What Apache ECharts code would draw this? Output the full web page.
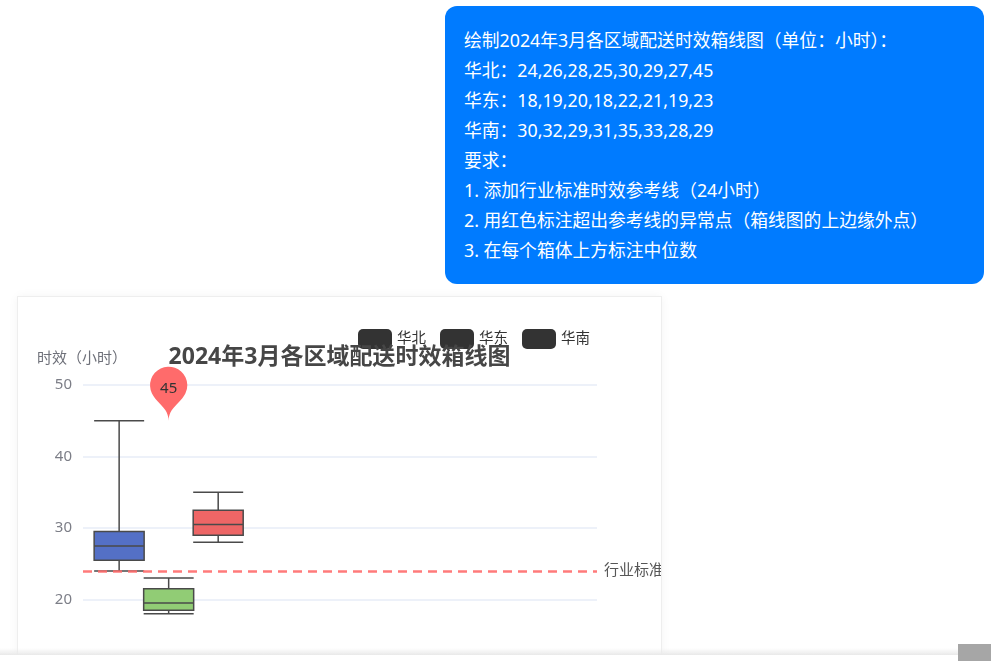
<!DOCTYPE html>
<html>
<head>
<meta charset="utf-8">
<style>
html, body { margin: 0; height: 100%; background: #fff; overflow: hidden; font-family: "Noto Sans", "Noto Sans CJK SC", sans-serif; }
#bubble { position: absolute; left: 445px; top: 6px; width: 539px; height: 278px; box-sizing: border-box; padding: 19px 0 0 19px; background: #007bff; color: #fff; border-radius: 12px; font-size: 17.8px; line-height: 30px; white-space: nowrap; }
#card { position: absolute; left: 18px; top: 297px; width: 643px; height: 500px; box-shadow: 0 0 0 1px #eee, 0 0 10px rgba(0,0,0,0.06); background: #fff; }
#container { width: 643px; height: 500px; }
#bottom { position: absolute; left: 0; top: 648px; width: 100%; height: 13px; background: linear-gradient(to bottom, rgba(235,235,235,0), #e9e9e9 54%, #fff 54%); }
#thumb { position: absolute; left: 958px; top: 644px; width: 33px; height: 17px; background: #a6a6a6; }
</style>
</head>
<body>
<div id="bubble">绘制2024年3月各区域配送时效箱线图（单位：小时）：<br>华北：24,26,28,25,30,29,27,45<br>华东：18,19,20,18,22,21,19,23<br>华南：30,32,29,31,35,33,28,29<br>要求：<br>1. 添加行业标准时效参考线（24小时）<br>2. 用红色标注超出参考线的异常点（箱线图的上边缘外点）<br>3. 在每个箱体上方标注中位数</div>
<div id="card"><div id="container"></div></div>
<div id="bottom"></div>
<div id="thumb"></div>
<script src="https://cdn.jsdelivr.net/npm/echarts@6/dist/echarts.min.js"></script>
<script type="text/javascript">
    var categories = ['华北', '华东', '华南'];
    var boxNorth = [24, 25.5, 27.5, 29.5, 45];
    var boxEast = [18, 18.5, 19.5, 21.5, 23];
    var boxSouth = [28, 29, 30.5, 32.5, 35];
    var referenceValue = 24;
    var outlierValue = 45;

    var font = '"Noto Sans", "Noto Sans CJK SC", sans-serif';
    var myChart = echarts.init(document.getElementById('container'));
    var boxBorder = '#4a4a4a';

    var option = {
        animation: false,
        backgroundColor: '#fff',
        textStyle: { fontFamily: font },
        title: {
            text: '2024年3月各区域配送时效箱线图',
            left: 'center',
            top: 44,
            textStyle: { fontFamily: font, fontSize: 23, fontWeight: 'bold', color: '#464646' }
        },
        legend: {
            data: categories,
            right: 66,
            top: 27,
            itemWidth: 34,
            itemHeight: 20,
            itemGap: 14,
            icon: 'roundRect',
            itemStyle: { color: '#333', borderWidth: 0 },
            textStyle: { fontFamily: font, fontSize: 14.5, color: '#333' }
        },
        grid: { left: 65, top: 88, width: 514, height: 357.5 },
        xAxis: {
            type: 'category',
            data: categories,
            axisLine: { lineStyle: { color: '#6e7079' } },
            axisLabel: { fontFamily: font, fontSize: 14, color: '#6e7079' }
        },
        yAxis: {
            type: 'value',
            name: '时效（小时）',
            nameGap: 19,
            min: 0,
            max: 50,
            interval: 10,
            nameTextStyle: { fontFamily: font, fontSize: 15, color: '#6e7079', padding: [0, 2, 0, 0] },
            axisLabel: { fontFamily: font, fontSize: 15, color: '#7c7e87', margin: 11 },
            splitLine: { lineStyle: { color: '#edf1f9', width: 2 } }
        },
        series: [
            {
                name: '华北',
                type: 'boxplot',
                boxWidth: [50, 50],
                data: [boxNorth],
                itemStyle: { color: '#5470c6', borderColor: boxBorder, borderWidth: 1.5 },
                markLine: {
                    silent: true,
                    symbol: 'none',
                    data: [{ yAxis: referenceValue }],
                    lineStyle: { color: '#ff6b6b', type: [9, 6], width: 2.5, opacity: 0.9 },
                    label: { formatter: '行业标准', position: 'end', distance: 7, fontFamily: font, fontSize: 15, color: '#444' }
                },
                markPoint: {
                    symbolSize: 62,
                    data: [{ coord: ['华北', outlierValue], value: outlierValue }],
                    itemStyle: { color: '#ff6b6b' },
                    label: { fontFamily: font, fontSize: 15, color: '#333' }
                }
            },
            {
                name: '华东',
                type: 'boxplot',
                boxWidth: [50, 50],
                data: [boxEast],
                itemStyle: { color: '#91cc75', borderColor: boxBorder, borderWidth: 1.5 }
            },
            {
                name: '华南',
                type: 'boxplot',
                boxWidth: [50, 50],
                data: [boxSouth],
                itemStyle: { color: '#ee6666', borderColor: boxBorder, borderWidth: 1.5 }
            }
        ]
    };

    myChart.setOption(option, true);
</script>
</body>
</html>
